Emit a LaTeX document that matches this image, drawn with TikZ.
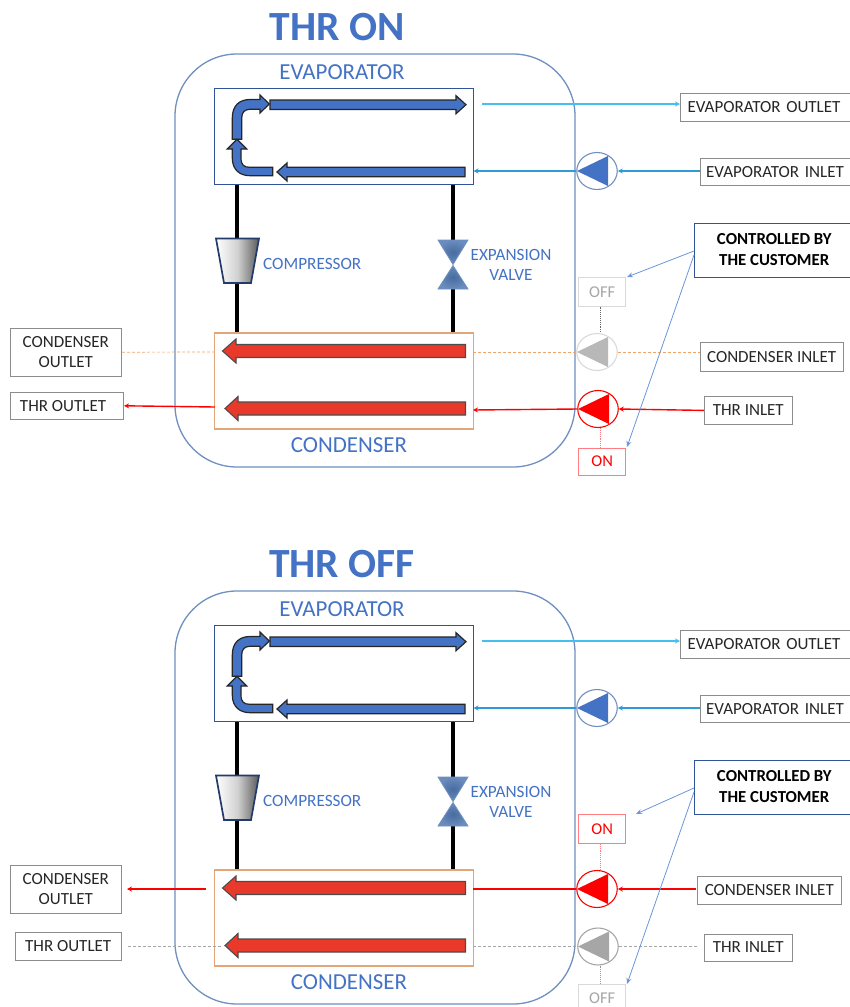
\documentclass[tikz,border=0pt]{standalone}
\usepackage{fontspec}
\setmainfont{Carlito}
\usetikzlibrary{arrows.meta,shapes.geometric}
\definecolor{accent}{HTML}{4472C4}
\definecolor{navy}{HTML}{2F5597}
\definecolor{frame}{HTML}{7090C0}
\definecolor{skyline}{HTML}{45BFEF}
\definecolor{inletblue}{HTML}{2E9BD8}
\definecolor{condedge}{HTML}{E2A679}
\definecolor{orangedash}{HTML}{F0A468}
\definecolor{redfill}{HTML}{E8392A}
\definecolor{tagedge}{HTML}{8C8C8C}
\definecolor{linkblue}{HTML}{6C96DC}
\definecolor{offgray}{HTML}{D9D9D9}
\definecolor{offtext}{HTML}{A6A6A6}
\definecolor{onred}{HTML}{FF7C80}
\definecolor{ink}{HTML}{262626}
\definecolor{valveout}{HTML}{6A8CBF}
\definecolor{valvein}{HTML}{486C9F}
\tikzset{
  tagbox/.style={draw=tagedge,line width=0.9pt,fill=white,inner sep=0pt,align=center,text=ink,font=\fontsize{17}{20}\selectfont},
  bluebox/.style={draw=navy,line width=1pt,fill=white,inner sep=0pt,align=center,text=black,font=\bfseries\fontsize{16.8}{20.5}\selectfont},
  offbox/.style={draw=offgray,line width=1pt,fill=white,inner sep=0pt,text=offtext,font=\fontsize{16.5}{20}\selectfont,minimum width=47pt},
  onbox/.style={draw=onred,line width=1pt,fill=white,inner sep=0pt,text=red,font=\fontsize{16.5}{20}\selectfont,minimum width=47pt},
  heading/.style={text=accent,font=\bfseries\fontsize{41.5}{44}\selectfont,inner sep=0pt},
  partname/.style={text=accent,font=\fontsize{22.9}{26}\selectfont,inner sep=0pt},
  smallname/.style={text=accent,font=\fontsize{17.2}{20.5}\selectfont,inner sep=0pt,align=center},
  pumpbody/.style={ellipse,draw=#1,line width=1.1pt,fill=white,minimum width=40.5pt,minimum height=37pt,inner sep=0pt},
  pipe/.style={line width=3.8pt,black},
  flowblue/.style={fill=accent,draw=black!85,line width=1.2pt,line join=miter},
  flowred/.style={fill=redfill,draw=black!70,line width=1.1pt,line join=miter},
  feed/.style={-{Stealth[length=5pt,width=5pt]},line width=1.4pt},
  link/.style={-{Stealth[length=6pt,width=5pt]},linkblue,line width=0.8pt},
  thindash/.style={densely dashed,line width=0.7pt},
  tie/.style={densely dotted,line width=0.9pt},
}
\newcommand{\flowarrow}[7]{%
  \draw[#1] (#2,#5-#6) -- (#4,#5-#6) -- (#4,#5-#7) -- (#3,#5) -- (#4,#5+#7) -- (#4,#5+#6) -- (#2,#5+#6) -- cycle;}
\newcommand{\pumptri}[3]{%
  \fill[#1] (#2-20,#3) -- (#2+11,#3-15) -- (#2+11,#3+15) -- cycle;}
\newcommand{\machine}[2]{%
  \draw[frame,line width=1.3pt,rounded corners=62pt] (175,54) rectangle (575,467);
  \node[heading] (#1title) at (#2,27.5) {THR O\ifnum#2=337 N\else FF\fi};
  \node[partname] (#1evapname) at (342,72) {EVAPORATOR};
  \node[draw=navy,line width=1pt,fill=white,minimum width=258.5pt,minimum height=95.5pt,inner sep=0pt] (#1evap) at (344,136.7) {};
  \node[draw=condedge,line width=1.3pt,fill=white,minimum width=258.5pt,minimum height=96pt,inner sep=0pt] (#1cond) at (344,381) {};
  \node[partname] (#1condname) at (349,445) {CONDENSER};
  \coordinate (#1comptop) at (237,238.5);
  \coordinate (#1compbot) at (237,283);
  \coordinate (#1valvetop) at (452.7,240);
  \coordinate (#1valvebot) at (452.7,289);
  \draw[pipe] (#1evap.south -| #1comptop) -- (#1comptop);
  \draw[pipe] (#1compbot) -- (#1cond.north -| #1compbot);
  \draw[pipe] (#1evap.south -| #1valvetop) -- (#1valvetop);
  \draw[pipe] (#1valvebot) -- (#1cond.north -| #1valvebot);
  \shade[left color=white,right color=black!65,shading angle=90,middle color=black!18]
    (216,238.5) -- (259,238.5) -- (251,283) -- (224,283) -- cycle;
  \draw[draw=navy!70!black,line width=1.7pt] (216,238.5) -- (259,238.5) -- (251,283) -- (224,283) -- cycle;
  \shade[inner color=valvein,outer color=valveout] (438,240) -- (468,240) -- (453,264.5) -- cycle;
  \shade[inner color=valvein,outer color=valveout] (453,265.5) -- (468,289) -- (438,289) -- cycle;
  \draw[frame,line width=0.8pt] (438,240) -- (468,240) -- (453,264.5) -- cycle (453,265.5) -- (468,289) -- (438,289) -- cycle;
  \node[smallname,anchor=west] (#1compname) at (263,264) {COMPRESSOR};
  \node[smallname] (#1valvename) at (511,265) {EXPANSION\\VALVE};
  \flowarrow{flowblue}{270}{466}{456}{104.7}{4.7}{9}
  \flowarrow{flowblue}{465}{277}{287}{172}{4.7}{9}
  \draw[flowblue] (232.3,139.3) -- (232.3,118) .. controls (232.3,105) and (240,99.5) .. (250,99.5) -- (260,99.5) -- (260,95) -- (269.3,104) -- (260,113) -- (260,109.3) -- (250,109.3) .. controls (245,109.3) and (241.7,112) .. (241.7,118) -- (241.7,139.3) -- cycle;
  \draw[flowblue] (272.7,167.3) -- (250,167.3) .. controls (244,167.3) and (241,165) .. (241,158) -- (241,149) -- (246.7,149) -- (237,139.3) -- (227.3,149) -- (232.3,149) -- (232.3,158) .. controls (232.3,170) and (240,175.7) .. (250,175.7) -- (272.7,175.7) -- cycle;
  \flowarrow{flowred}{465.5}{222.5}{236}{351}{6.5}{12}
  \flowarrow{flowred}{465.5}{225}{238}{408.5}{6.5}{12}
  \node[tagbox,minimum width=180pt,minimum height=27.7pt,text width=170pt] (#1evout) at (770.5,107.3) {\hspace*{-13pt}EVAPORATOR OUTLET};
  \coordinate (#1evoutport) at (680,104);
  \coordinate (#1evoutstart) at (482,104);
  \draw[feed,skyline,line width=1.9pt] (#1evoutstart) -- (#1evoutport);
  \node[tagbox,minimum width=160pt,minimum height=27.7pt,text width=155pt] (#1evin) at (780,172) {\hspace*{-10pt}EVAPORATOR INLET};
  \node[pumpbody=frame] (#1evpump) at (597,171) {};
  \pumptri{accent}{597}{171}
  \coordinate (#1evport) at (473.5,171);
  \draw[feed,inletblue] (#1evin.west |- #1evpump.east) -- (#1evpump.east);
  \draw[feed,inletblue] (#1evpump.west) -- (#1evport);
  \node[bluebox,minimum width=170pt,minimum height=54.4pt] (#1ctrl) at (779.5,250.5) {\hspace*{-10.5pt}\begin{tabular}{@{}c@{}}CONTROLLED BY\\[0.5pt]THE CUSTOMER\end{tabular}};
}
\begin{document}
\begin{tikzpicture}[x=1pt,y=-1pt]
\useasboundingbox (0,0) rectangle (850,1007);
\clip (0,0) rectangle (850,1007);
\fill[white] (0,0) rectangle (850,1007);
%%%%%%%%%% THR ON
\begin{scope}
  \machine{a}{337}
  \node[offbox,minimum height=28.4pt] (aoff) at (602.2,291.8) {OFF};
  \node[pumpbody=offgray] (agray) at (597,352) {};
  \pumptri{offgray!85!black}{597}{352}
  \node[pumpbody=red] (ared) at (598,409) {};
  \pumptri{red}{598}{409}
  \node[onbox,minimum height=27pt] (aon) at (602.2,461.5) {ON};
  \draw[tie,black!60] (aoff.south -| 600,0) -- (agray.north -| 600,0);
  \draw[tie,onred] (ared.south -| 600,0) -- (aon.north -| 600,0);
  \node[tagbox,minimum width=143.3pt,minimum height=28.7pt] (acondin) at (771.6,356.6) {CONDENSER INLET};
  \node[tagbox,minimum width=88pt,minimum height=27.4pt] (athrin) at (748.3,410.4) {THR INLET};
  \node[tagbox,minimum width=111.7pt,minimum height=47.7pt] (acondout) at (65.8,352.2) {CONDENSER\\OUTLET};
  \node[tagbox,minimum width=113.7pt,minimum height=27.7pt] (athrout) at (66.8,405.8) {\hspace*{-7.5pt}THR OUTLET};
  \coordinate (acondportl) at (215,352);
  \coordinate (acondportr) at (473,352);
  \coordinate (athrportl) at (215,407);
  \coordinate (athrportr) at (473,410);
  \draw[thindash,orangedash] (acondportr) -- (agray.west);
  \draw[thindash,orangedash] (agray.east) -- (acondin.west |- agray.east);
  \draw[thindash,orangedash] (acondout.east) -- (acondportl);
  \draw[feed,red] (athrin.west) -- (ared.east);
  \draw[feed,red] (ared.west) -- (athrportr);
  \draw[feed,red] (athrportl) -- (athrout.east);
  \coordinate (alinkA) at (694,251);
  \coordinate (alinkB) at (694,255);
  \coordinate (aendA) at (627,277);
  \coordinate (aendB) at (627,447);
  \draw[link] (alinkA) -- (aendA);
  \draw[link] (alinkB) -- (aendB);
\end{scope}
%%%%%%%%%% THR OFF
\begin{scope}[yshift=-537pt]
  \machine{b}{342}
  \node[onbox,minimum height=29pt] (bon) at (602.2,291.8) {ON};
  \node[pumpbody=red] (bred) at (597,352) {};
  \pumptri{red}{597}{352}
  \node[pumpbody=offtext] (bgray) at (598,409.5) {};
  \pumptri{offtext}{598}{409.5}
  \node[offbox,minimum height=28pt] (boff) at (602.2,461.5) {OFF};
  \draw[tie,onred] (bon.south -| 600,0) -- (bred.north -| 600,0);
  \draw[tie,offgray!70!black] (bgray.south -| 600,0) -- (boff.north -| 600,0);
  \node[tagbox,minimum width=143.3pt,minimum height=28.3pt] (bcondin) at (769.3,353.2) {CONDENSER INLET};
  \node[tagbox,minimum width=88pt,minimum height=27pt] (bthrin) at (748.3,410.5) {THR INLET};
  \node[tagbox,minimum width=111.7pt,minimum height=48pt] (bcondout) at (65.8,352.3) {CONDENSER\\OUTLET};
  \node[tagbox,minimum width=106pt,minimum height=27.7pt] (bthrout) at (68.7,409.2) {\hspace*{-1pt}THR OUTLET};
  \coordinate (bcondportl) at (206,352);
  \coordinate (bcondportr) at (473,352);
  \coordinate (bthrportl) at (222,409);
  \coordinate (bthrportr) at (473,409.5);
  \coordinate (bthrstub) at (128,409);
  \coordinate (bcondstub) at (127,352);
  \coordinate (bcondinstub) at (696,352);
  \coordinate (bthrinstub) at (698,409.5);
  \draw[line width=1.4pt,red] (bcondportr) -- (bred.west);
  \draw[feed,red] (bcondinstub) -- (bred.east);
  \draw[feed,red] (bcondportl) -- (bcondstub);
  \draw[thindash,black!35] (bthrportr) -- (bgray.west);
  \draw[thindash,black!35] (bgray.east) -- (bthrinstub);
  \draw[thindash,black!35] (bthrstub) -- (bthrportl);
  \coordinate (blinkA) at (694,251);
  \coordinate (blinkB) at (694,255);
  \coordinate (bendA) at (636,277);
  \coordinate (bendB) at (627,447);
  \draw[link] (blinkA) -- (bendA);
  \draw[link] (blinkB) -- (bendB);
\end{scope}
\end{tikzpicture}
\end{document}
